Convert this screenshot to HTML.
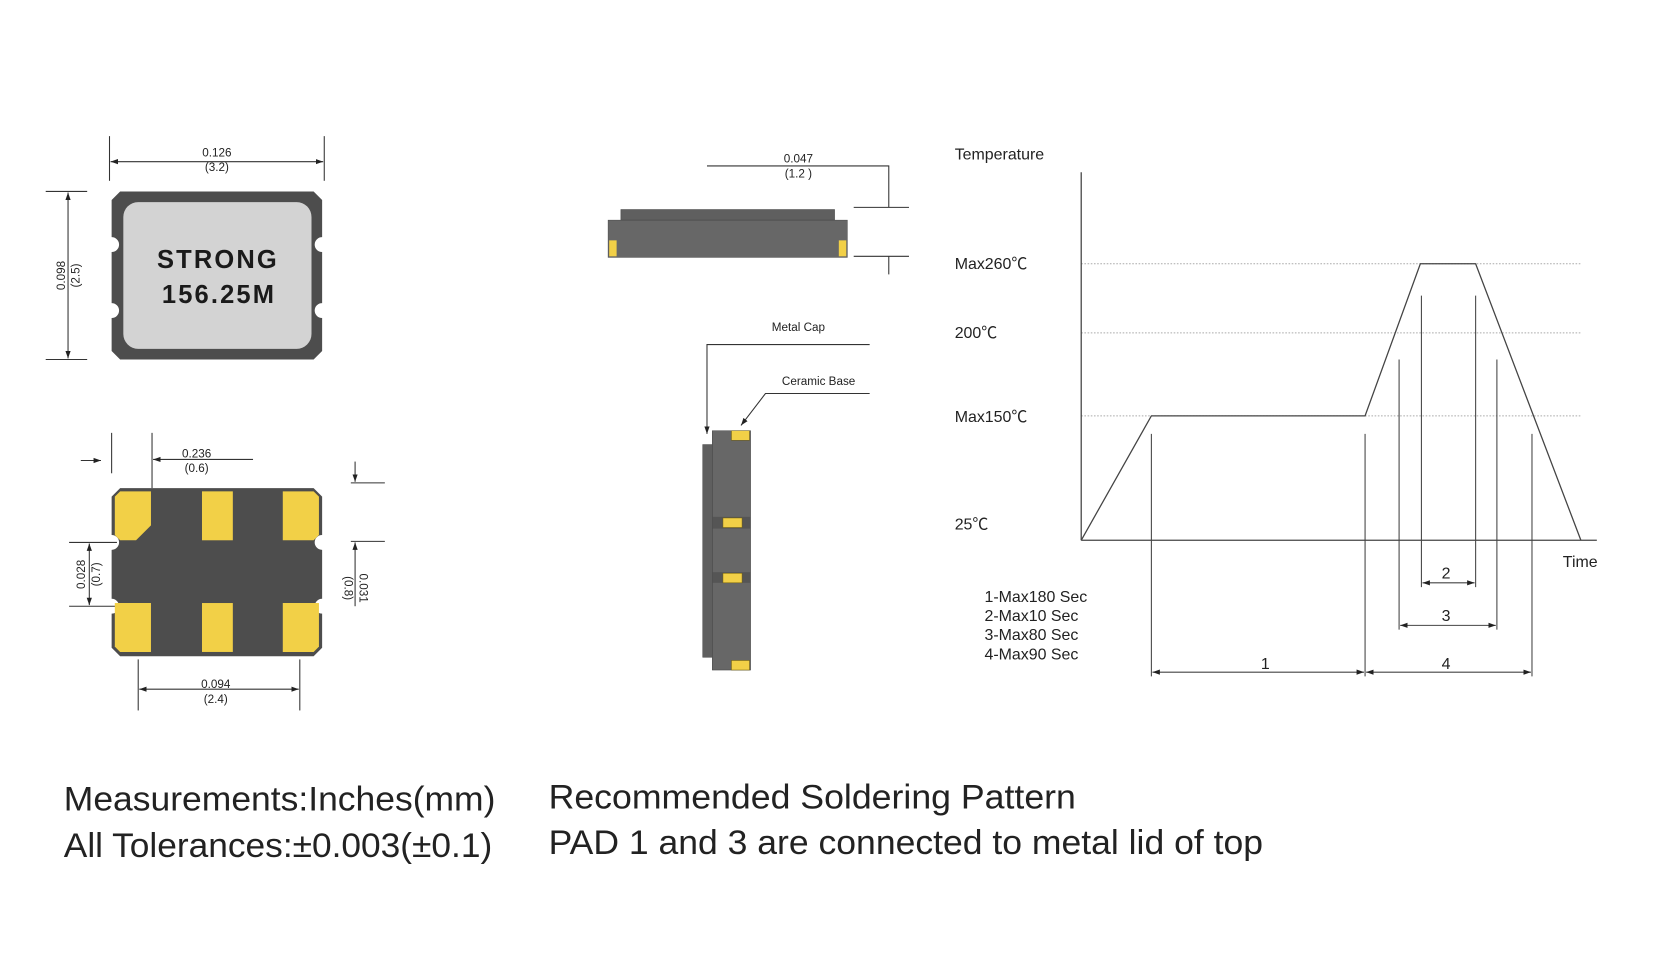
<!DOCTYPE html>
<html><head><meta charset="utf-8"><style>
html,body{margin:0;padding:0;background:#fff;}
svg{display:block;}
text{font-family:"Liberation Sans","Noto Sans CJK SC",sans-serif;fill:#222;}
</style></head><body>
<svg width="1667" height="954" viewBox="0 0 1568 897" preserveAspectRatio="none" xmlns="http://www.w3.org/2000/svg">
<defs>
<marker id="a" viewBox="0 0 10 10" refX="10" refY="5" markerWidth="7" markerHeight="7" orient="auto-start-reverse"><path d="M0,1.5 L10,5 L0,8.5z" fill="#222"/></marker>
</defs>
<rect width="1568" height="897" fill="#fff"/>
<g stroke="#333" stroke-width="1" fill="none">
<line x1="103" y1="128" x2="103" y2="170"/><line x1="305" y1="128" x2="305" y2="170"/>
<line x1="104" y1="152" x2="304" y2="152" marker-start="url(#a)" marker-end="url(#a)"/>
<line x1="43" y1="180" x2="82" y2="180"/><line x1="43" y1="338" x2="82" y2="338"/>
<line x1="64" y1="181" x2="64" y2="337" marker-start="url(#a)" marker-end="url(#a)"/>
<line x1="105" y1="407" x2="105" y2="445"/><line x1="143" y1="407" x2="143" y2="459"/>
<line x1="144" y1="432" x2="238" y2="432" marker-start="url(#a)"/>
<line x1="76" y1="433" x2="95" y2="433" marker-end="url(#a)"/>
<line x1="334" y1="434" x2="334" y2="453" marker-end="url(#a)"/>
<line x1="330" y1="454" x2="362" y2="454"/><line x1="330" y1="509" x2="362" y2="509"/>
<line x1="334" y1="570" x2="334" y2="510" marker-end="url(#a)"/>
<line x1="65" y1="510" x2="110" y2="510"/><line x1="65" y1="570" x2="110" y2="570"/>
<line x1="84" y1="511" x2="84" y2="569" marker-start="url(#a)" marker-end="url(#a)"/>
<line x1="130" y1="620" x2="130" y2="668"/><line x1="282" y1="620" x2="282" y2="668"/>
<line x1="131" y1="648" x2="281" y2="648" marker-start="url(#a)" marker-end="url(#a)"/>
<polyline points="665,156 836,156 836,195"/>
<line x1="803" y1="195" x2="855" y2="195"/><line x1="803" y1="241" x2="855" y2="241"/>
<line x1="836" y1="241" x2="836" y2="258"/>
<polyline points="818,324 665,324 665,408" marker-end="url(#a)"/>
<polyline points="818,370 720,370 697,400" marker-end="url(#a)"/>
</g>
<path d="M113,180 H295 L303,188 V223 A7,7 0 0 0 303,237 V285 A7,7 0 0 0 303,299 V330 L295,338 H113 L105,330 V299 A7,7 0 0 0 105,285 V237 A7,7 0 0 0 105,223 V188 Z" fill="#4d4d4d"/>
<rect x="116" y="190" width="177" height="138" rx="14" fill="#d3d3d3"/>
<text x="205" y="252" text-anchor="middle" font-size="24" font-weight="bold" letter-spacing="2" style="fill:#1a1a1a">STRONG</text>
<text x="206" y="285" text-anchor="middle" font-size="24" font-weight="bold" letter-spacing="2" style="fill:#1a1a1a">156.25M</text>
<g font-size="11" text-anchor="middle">
<text x="204" y="147">0.126</text><text x="204" y="161">(3.2)</text>
<text transform="translate(61,259) rotate(-90)">0.098</text>
<text transform="translate(75,259) rotate(-90)">(2.5)</text>
<text x="185" y="430">0.236</text><text x="185" y="444">(0.6)</text>
<text transform="translate(80,540) rotate(-90)">0.028</text>
<text transform="translate(94,540) rotate(-90)">(0.7)</text>
<text transform="translate(338,553) rotate(90)">0.031</text>
<text transform="translate(324,553) rotate(90)">(0.8)</text>
<text x="203" y="647">0.094</text><text x="203" y="661">(2.4)</text>
<text x="751" y="153">0.047</text><text x="751" y="167">(1.2 )</text>
<text x="751" y="311">Metal Cap</text><text x="770" y="362">Ceramic Base</text>
</g>
<path d="M113,459 H295 L303,467 V503 A7,7 0 0 0 303,517 V563 A7,7 0 0 0 303,577 V609 L295,617 H113 L105,609 V577 A7,7 0 0 0 105,563 V517 A7,7 0 0 0 105,503 V467 Z" fill="#4d4d4d"/>
<g fill="#f2d047">
<path d="M113,462 H142 V494 L128,508 H113 L108,503 V467 Z"/>
<rect x="190" y="462" width="29" height="46"/>
<path d="M266,462 H295 L300,467 V503 L295,508 H266 Z"/>
<path d="M108,567 H142 V613 H113 L108,608 Z"/>
<rect x="190" y="567" width="29" height="46"/>
<path d="M266,567 H300 V608 L295,613 H266 Z"/>
</g>
<rect x="584" y="197" width="201" height="10" fill="#5f5f5f" stroke="#444" stroke-width="0.5"/>
<rect x="572" y="207" width="225" height="35" fill="#676767" stroke="#444" stroke-width="0.5"/>
<rect x="573" y="226" width="7" height="15" fill="#f2d047"/>
<rect x="789" y="226" width="7" height="15" fill="#f2d047"/>
<rect x="661" y="418" width="9" height="200" fill="#5f5f5f" stroke="#444" stroke-width="0.5"/>
<rect x="670" y="405" width="36" height="225" fill="#676767" stroke="#444" stroke-width="0.5"/>
<rect x="670" y="486" width="36" height="11" fill="#555"/>
<rect x="670" y="538" width="36" height="10" fill="#555"/>
<g fill="#f2d047" stroke="#6b5a10" stroke-width="0.5">
<rect x="688" y="405" width="17" height="9"/><rect x="680" y="487" width="18" height="9"/>
<rect x="680" y="539" width="18" height="9"/><rect x="688" y="621" width="17" height="9"/>
</g>
<g stroke="#aaa" stroke-width="1" stroke-dasharray="1.5,1.5">
<line x1="1017" y1="248" x2="1487" y2="248"/><line x1="1017" y1="313" x2="1487" y2="313"/><line x1="1017" y1="391" x2="1487" y2="391"/>
</g>
<g stroke="#444" stroke-width="1.2" fill="none">
<line x1="1017" y1="162" x2="1017" y2="508"/><line x1="1017" y1="508" x2="1502" y2="508"/>
<polyline points="1017,508 1083,391 1284,391 1336,248 1388,248 1487,508"/>
</g>
<g stroke="#444" stroke-width="1" fill="none">
<line x1="1083" y1="408" x2="1083" y2="636"/><line x1="1284" y1="408" x2="1284" y2="636"/>
<line x1="1441" y1="408" x2="1441" y2="636"/>
<line x1="1316" y1="338" x2="1316" y2="592"/><line x1="1408" y1="338" x2="1408" y2="592"/>
<line x1="1337" y1="278" x2="1337" y2="552"/><line x1="1388" y1="278" x2="1388" y2="552"/>
<line x1="1338" y1="548" x2="1387" y2="548" marker-start="url(#a)" marker-end="url(#a)"/>
<line x1="1317" y1="588" x2="1407" y2="588" marker-start="url(#a)" marker-end="url(#a)"/>
<line x1="1084" y1="632" x2="1283" y2="632" marker-start="url(#a)" marker-end="url(#a)"/>
<line x1="1285" y1="632" x2="1440" y2="632" marker-start="url(#a)" marker-end="url(#a)"/>
</g>
<g font-size="15">
<text x="898" y="150">Temperature</text>
<text x="898" y="253">Max260℃</text><text x="898" y="318">200℃</text>
<text x="898" y="397">Max150℃</text><text x="898" y="498">25℃</text>
<text x="1470" y="533">Time</text>
<text x="1356" y="544">2</text><text x="1356" y="584">3</text>
<text x="1186" y="629">1</text><text x="1356" y="629">4</text>
<text x="926" y="566">1-Max180 Sec</text><text x="926" y="584">2-Max10 Sec</text>
<text x="926" y="602">3-Max80 Sec</text><text x="926" y="620">4-Max90 Sec</text>
</g>
<g font-size="32" style="fill:#111">
<text x="60" y="762" textLength="406" lengthAdjust="spacingAndGlyphs">Measurements:Inches(mm)</text>
<text x="60" y="806" textLength="403" lengthAdjust="spacingAndGlyphs">All Tolerances:±0.003(±0.1)</text>
<text x="516" y="760" textLength="496" lengthAdjust="spacingAndGlyphs">Recommended Soldering Pattern</text>
<text x="516" y="803" textLength="672" lengthAdjust="spacingAndGlyphs">PAD 1 and 3 are connected to metal lid of top</text>
</g>
</svg>
</body></html>
